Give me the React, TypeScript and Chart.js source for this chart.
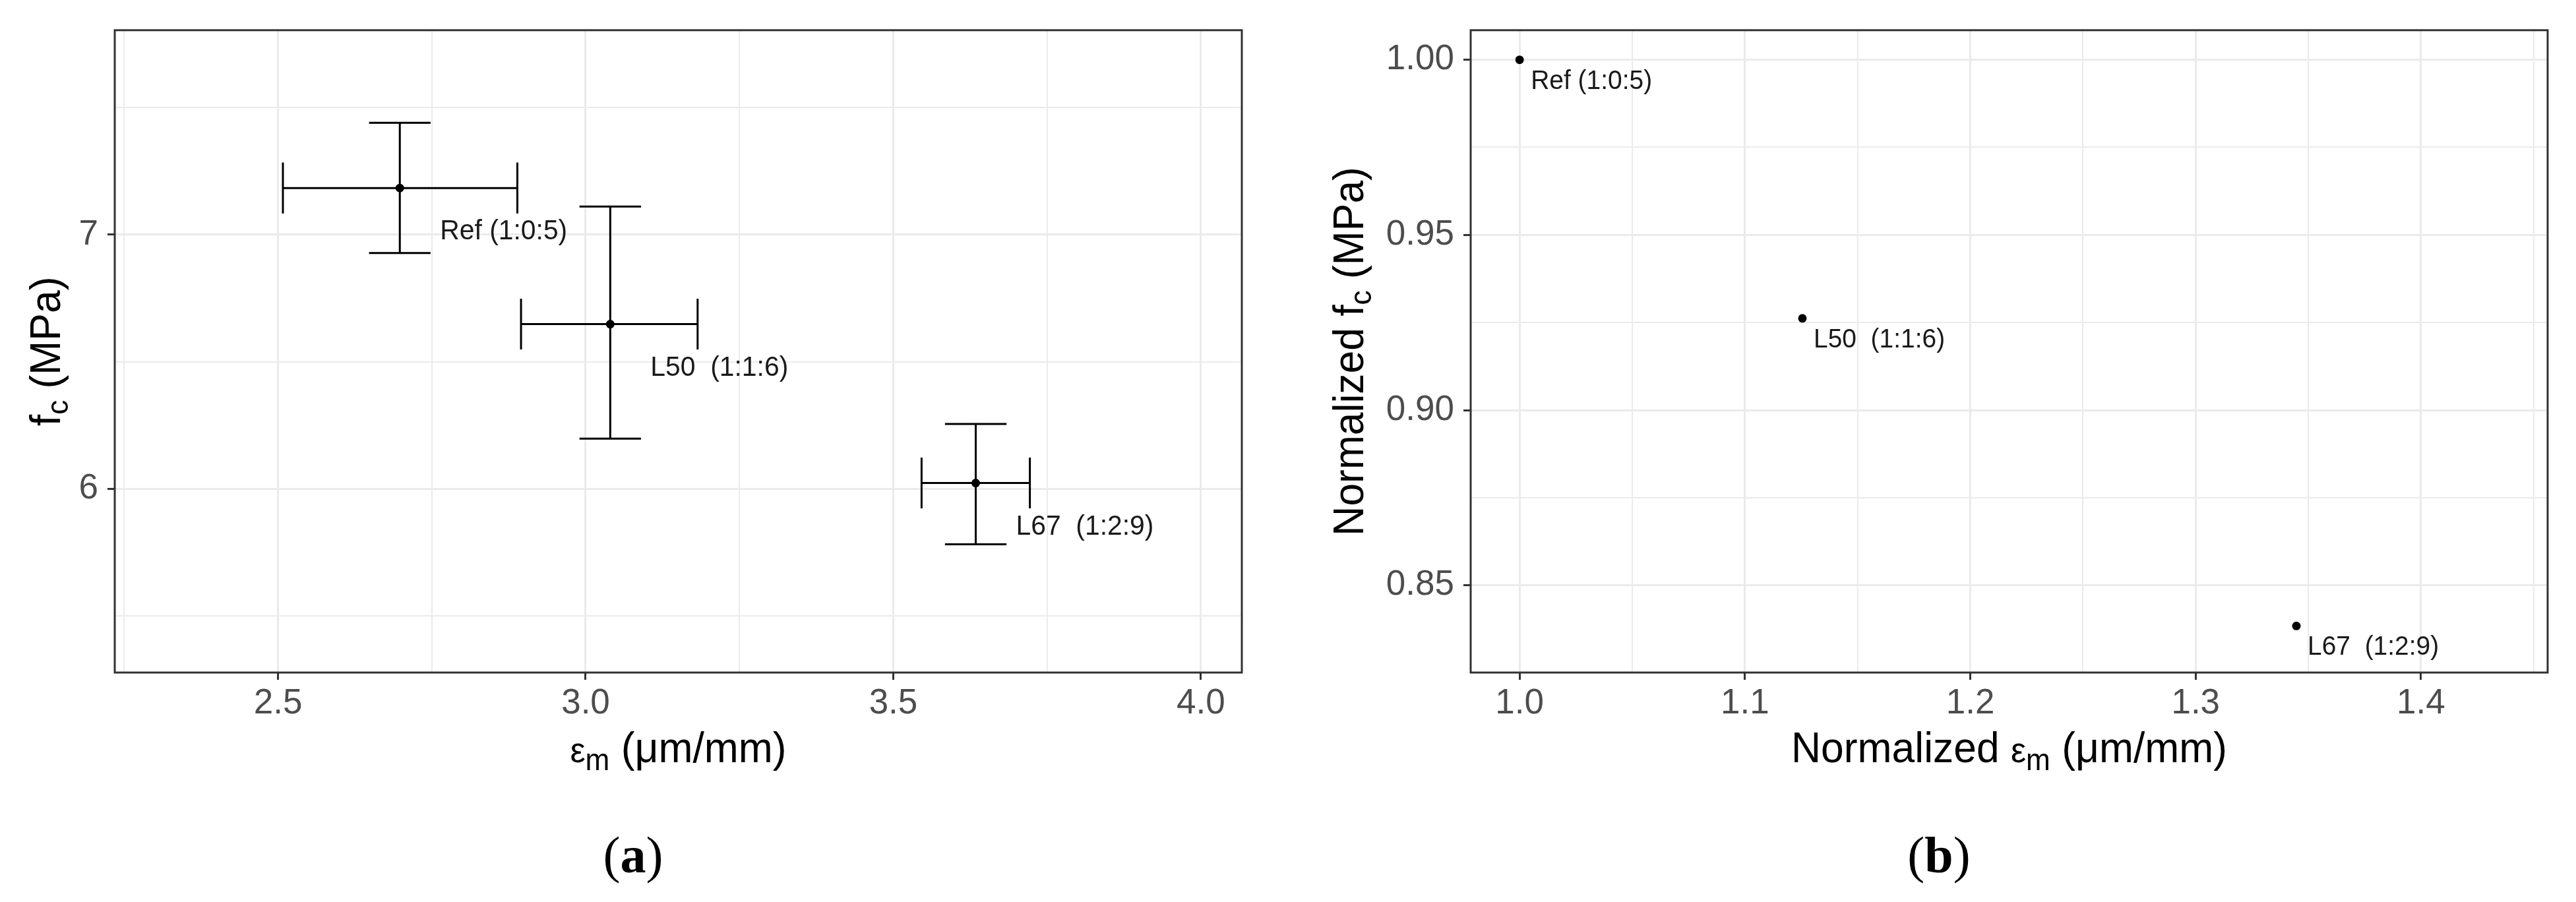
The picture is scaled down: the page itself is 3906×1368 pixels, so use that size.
import React, { useEffect, useRef } from 'react';
import { Chart, registerables } from 'chart.js';

Chart.register(...registerables);

// ---------- data ----------
const groupLabels = ['Ref (1:0:5)', 'L50  (1:1:6)', 'L67  (1:2:9)'];
const strainMean = [2.698, 3.04, 3.634];
const strainLow = [2.508, 2.895, 3.546];
const strainHigh = [2.889, 3.182, 3.722];
const fcMean = [7.184, 6.648, 6.022];
const fcLow = [6.928, 6.197, 5.781];
const fcHigh = [7.441, 7.111, 6.255];
const normStrain = [1.0, 1.1255, 1.3447];
const normFc = [1.0, 0.9262, 0.8384];

const xMajorA = [2.5, 3.0, 3.5, 4.0];
const xMinorA = [2.25, 2.75, 3.25, 3.75];
const yMajorA = [6, 7];
const yMinorA = [5.5, 6.5, 7.5];
const xMajorB = [1.0, 1.1, 1.2, 1.3, 1.4];
const xMinorB = [1.05, 1.15, 1.25, 1.35, 1.45];
const yMajorB = [0.85, 0.9, 0.95, 1.0];
const yMinorB = [0.875, 0.925, 0.975];

const capWidthX = 0.1; // width of vertical error bar caps (x units)
const capHeightY = 0.2; // height of horizontal error bar caps (y units)

const SANS = '"Liberation Sans", Arial, sans-serif';
const SERIF = '"Liberation Serif", "DejaVu Serif", serif';

type Part = { text: string; size: number; dy?: number; bold?: boolean; family?: string };

function drawRich(ctx: CanvasRenderingContext2D, parts: Part[], x: number, y: number, sx = 1) {
  let total = 0;
  const widths = parts.map((p) => {
    ctx.font = `${p.bold ? 'bold ' : ''}${p.size}px ${p.family || SANS}`;
    const w = ctx.measureText(p.text).width * sx;
    total += w;
    return w;
  });
  let cx = x - total / 2;
  ctx.textAlign = 'left';
  ctx.textBaseline = 'alphabetic';
  parts.forEach((p, i) => {
    ctx.font = `${p.bold ? 'bold ' : ''}${p.size}px ${p.family || SANS}`;
    ctx.save();
    ctx.translate(cx, y + (p.dy || 0));
    ctx.scale(sx, 1);
    ctx.fillText(p.text, 0, 0);
    ctx.restore();
    cx += widths[i];
  });
}

function near(v: number, arr: number[]) {
  return arr.some((a) => Math.abs(a - v) < 1e-6);
}

type PanelOpts = {
  xs: number[];
  ys: number[];
  errX?: { lo: number[]; hi: number[] };
  errY?: { lo: number[]; hi: number[] };
  xMin: number; xMax: number; yMin: number; yMax: number;
  xMajor: number[]; xMinor: number[]; yMajor: number[]; yMinor: number[];
  xFmt: (v: number) => string; yFmt: (v: number) => string;
  yAxisWidth: number; rightPad: number;
  labelDx: number; labelDy: number; labelSize: number;
  xTitle: Part[]; yTitle: Part[]; yTitleX: number;
  caption: string; captionX: number;
};

function makeConfig(o: PanelOpts): any {
  const overlay = {
    id: 'overlay',
    beforeDatasetsDraw(chart: any) {
      const ctx = chart.ctx as CanvasRenderingContext2D;
      const xs = chart.scales.x;
      const ys = chart.scales.y;
      ctx.save();
      ctx.strokeStyle = '#000';
      ctx.lineWidth = 3;
      ctx.lineCap = 'butt';
      for (let i = 0; i < o.xs.length; i++) {
        const px = xs.getPixelForValue(o.xs[i]);
        const py = ys.getPixelForValue(o.ys[i]);
        if (o.errY) {
          const t = ys.getPixelForValue(o.errY.hi[i]);
          const b = ys.getPixelForValue(o.errY.lo[i]);
          const l = xs.getPixelForValue(o.xs[i] - capWidthX / 2);
          const r = xs.getPixelForValue(o.xs[i] + capWidthX / 2);
          ctx.beginPath();
          ctx.moveTo(px, t); ctx.lineTo(px, b);
          ctx.moveTo(l, t); ctx.lineTo(r, t);
          ctx.moveTo(l, b); ctx.lineTo(r, b);
          ctx.stroke();
        }
        if (o.errX) {
          const l = xs.getPixelForValue(o.errX.lo[i]);
          const r = xs.getPixelForValue(o.errX.hi[i]);
          const t = ys.getPixelForValue(o.ys[i] + capHeightY / 2);
          const b = ys.getPixelForValue(o.ys[i] - capHeightY / 2);
          ctx.beginPath();
          ctx.moveTo(l, py); ctx.lineTo(r, py);
          ctx.moveTo(l, t); ctx.lineTo(l, b);
          ctx.moveTo(r, t); ctx.lineTo(r, b);
          ctx.stroke();
        }
      }
      ctx.restore();
    },
    afterDraw(chart: any) {
      const ctx = chart.ctx as CanvasRenderingContext2D;
      const xs = chart.scales.x;
      const ys = chart.scales.y;
      const a = chart.chartArea;
      ctx.save();
      // point labels
      ctx.fillStyle = '#1a1a1a';
      ctx.font = `${o.labelSize}px ${SANS}`;
      ctx.textAlign = 'left';
      ctx.textBaseline = 'alphabetic';
      for (let i = 0; i < o.xs.length; i++) {
        const px = xs.getPixelForValue(o.xs[i]);
        const py = ys.getPixelForValue(o.ys[i]);
        ctx.save();
        ctx.translate(px + o.labelDx, py + o.labelDy);
        ctx.scale(0.95, 1);
        ctx.fillText(groupLabels[i], 0, 0);
        ctx.restore();
      }
      // panel border
      ctx.strokeStyle = '#333333';
      ctx.lineWidth = 3;
      ctx.strokeRect(a.left, a.top, a.right - a.left, a.bottom - a.top);
      // axis titles
      ctx.fillStyle = '#000';
      drawRich(ctx, o.xTitle, (a.left + a.right) / 2, 1156, 0.96);
      ctx.save();
      ctx.translate(o.yTitleX, (a.top + a.bottom) / 2);
      ctx.rotate(-Math.PI / 2);
      drawRich(ctx, o.yTitle, 0, 0, 0.96);
      ctx.restore();
      // caption
      drawRich(
        ctx,
        [
          { text: '(', size: 78, family: SERIF },
          { text: o.caption, size: 78, bold: true, family: SERIF },
          { text: ')', size: 78, family: SERIF },
        ],
        o.captionX,
        1323
      );
      ctx.restore();
    },
  };

  const gridOpts = (major: number[]) => ({
    drawOnChartArea: true,
    drawTicks: true,
    tickLength: 11,
    color: '#EBEBEB',
    lineWidth: (c: any) => (c.tick && near(c.tick.value, major) ? 3 : 2),
    tickColor: (c: any) => (c.tick && near(c.tick.value, major) ? '#333333' : 'rgba(0,0,0,0)'),
    tickWidth: 3,
  });

  return {
    type: 'scatter',
    data: {
      datasets: [
        {
          data: o.xs.map((x, i) => ({ x, y: o.ys[i] })),
          pointRadius: 6.5,
          pointBackgroundColor: '#000',
          pointBorderWidth: 0,
          pointHoverRadius: 6.5,
        },
      ],
    },
    options: {
      animation: false,
      responsive: false,
      maintainAspectRatio: false,
      events: [],
      layout: { padding: { left: 0, right: o.rightPad, top: 42, bottom: 0 } },
      plugins: { legend: { display: false }, tooltip: { enabled: false } },
      scales: {
        x: {
          type: 'linear',
          min: o.xMin,
          max: o.xMax,
          border: { display: false },
          grid: gridOpts(o.xMajor),
          afterBuildTicks: (s: any) => {
            s.ticks = [...o.xMinor, ...o.xMajor].sort((p, q) => p - q).map((v) => ({ value: v }));
          },
          afterFit: (s: any) => {
            s.height = 348;
          },
          ticks: {
            autoSkip: false,
            maxRotation: 0,
            minRotation: 0,
            padding: 5,
            color: '#4D4D4D',
            font: { family: SANS, size: 53 },
            callback: (v: any) => (near(Number(v), o.xMajor) ? o.xFmt(Number(v)) : ''),
          },
        },
        y: {
          type: 'linear',
          min: o.yMin,
          max: o.yMax,
          border: { display: false },
          grid: gridOpts(o.yMajor),
          afterBuildTicks: (s: any) => {
            s.ticks = [...o.yMinor, ...o.yMajor].sort((p, q) => p - q).map((v) => ({ value: v }));
          },
          afterFit: (s: any) => {
            s.width = o.yAxisWidth;
          },
          ticks: {
            autoSkip: false,
            padding: 14,
            color: '#4D4D4D',
            font: { family: SANS, size: 53 },
            callback: (v: any) => (near(Number(v), o.yMajor) ? o.yFmt(Number(v)) : ''),
          },
        },
      },
    },
    plugins: [overlay],
  };
}

function Panel({ cfg, width, left }: { cfg: PanelOpts; width: number; left: number }) {
  const ref = useRef<HTMLCanvasElement | null>(null);
  useEffect(() => {
    if (!ref.current) return;
    const chart = new Chart(ref.current, makeConfig(cfg));
    return () => chart.destroy();
  }, []);
  return (
    <canvas
      ref={ref}
      width={width}
      height={1368}
      style={{ position: 'absolute', left, top: 0, width, height: 1368 }}
    />
  );
}

const panelA: PanelOpts = {
  xs: strainMean,
  ys: fcMean,
  errX: { lo: strainLow, hi: strainHigh },
  errY: { lo: fcLow, hi: fcHigh },
  xMin: 2.2347, xMax: 4.0665, yMin: 5.2757, yMax: 7.8055,
  xMajor: xMajorA, xMinor: xMinorA, yMajor: yMajorA, yMinor: yMinorA,
  xFmt: (v) => v.toFixed(1),
  yFmt: (v) => v.toFixed(0),
  yAxisWidth: 174,
  rightPad: 1950 - 1883,
  labelDx: 61, labelDy: 78, labelSize: 43,
  xTitle: [
    { text: 'ε', size: 54 },
    { text: 'm', size: 46, dy: 12 },
    { text: ' (μm/mm)', size: 65 },
  ],
  yTitle: [
    { text: 'f', size: 65 },
    { text: 'c', size: 46, dy: 12 },
    { text: ' (MPa)', size: 65 },
  ],
  yTitleX: 91,
  caption: 'a',
  captionX: 960,
};

const panelB: PanelOpts = {
  xs: normStrain,
  ys: normFc,
  xMin: 0.9783, xMax: 1.4562, yMin: 0.8251, yMax: 1.00844,
  xMajor: xMajorB, xMinor: xMinorB, yMajor: yMajorB, yMinor: yMinorB,
  xFmt: (v) => v.toFixed(1),
  yFmt: (v) => v.toFixed(2),
  yAxisWidth: 280,
  rightPad: 1956 - 1913,
  labelDx: 17, labelDy: 44, labelSize: 41,
  xTitle: [
    { text: 'Normalized ', size: 65 },
    { text: 'ε', size: 54 },
    { text: 'm', size: 46, dy: 12 },
    { text: ' (μm/mm)', size: 65 },
  ],
  yTitle: [
    { text: 'Normalized f', size: 65 },
    { text: 'c', size: 46, dy: 12 },
    { text: ' (MPa)', size: 65 },
  ],
  yTitleX: 117,
  caption: 'b',
  captionX: 990,
};

export default function App() {
  return (
    <div style={{ position: 'absolute', left: 0, top: 0, width: 3906, height: 1368, background: '#fff' }}>
      <Panel cfg={panelA} width={1950} left={0} />
      <Panel cfg={panelB} width={1956} left={1950} />
    </div>
  );
}
